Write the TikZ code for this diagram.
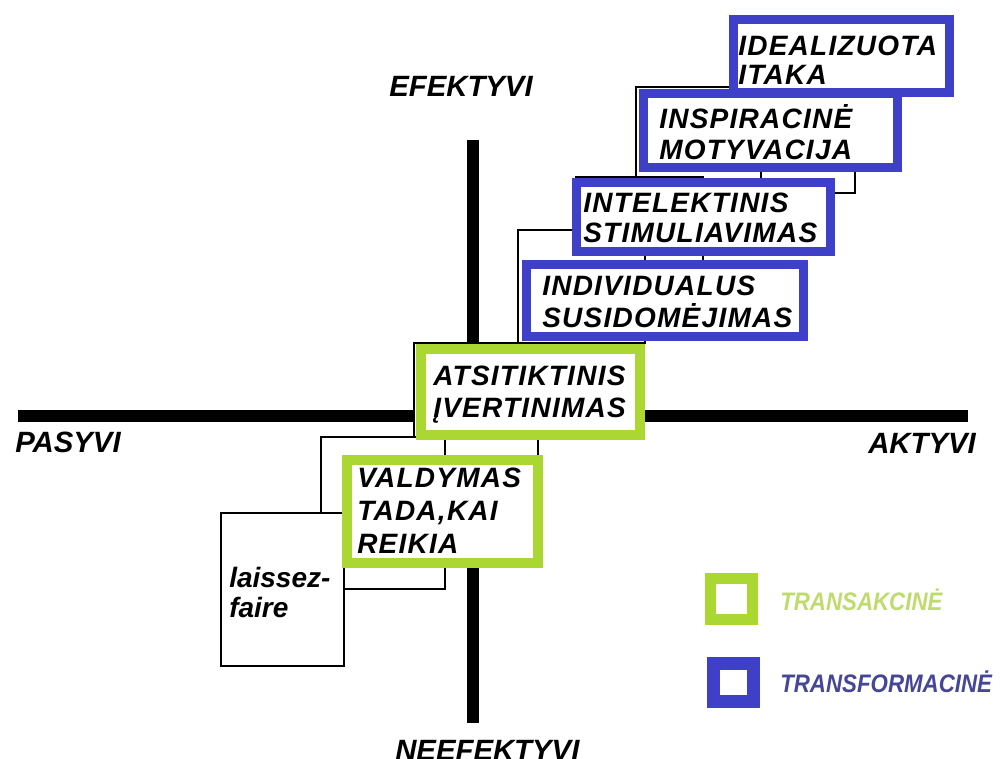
\documentclass[tikz,border=0pt]{standalone}
\usepackage{fontspec}
\usetikzlibrary{fit}
\newfontfamily\axisfont{Liberation Sans}
\newfontfamily\boxfont[LetterSpace=4.5]{Liberation Sans}
\newfontfamily\legendfont[FakeStretch=0.88]{Liberation Sans}
\definecolor{transgreen}{RGB}{170,215,50}
\definecolor{transblue}{RGB}{62,64,200}
\definecolor{legendgreen}{RGB}{190,220,110}
\definecolor{legendblue}{RGB}{70,70,150}

\begin{document}
\begin{tikzpicture}[x=0.75pt,y=-0.75pt,
  axisline/.style={line width=8.4pt},
  underframe/.style={draw=black, line width=1.5pt, fill=white, inner sep=0pt},
  bluebox/.style={draw=transblue, line width=6.75pt, fill=white, inner sep=0pt},
  greenbox/.style={draw=transgreen, line width=7.5pt, fill=white, inner sep=0pt},
  boxtext/.style={anchor=base west, inner sep=0pt, text width=300pt, align=left,
    font=\boxfont\bfseries\itshape\fontsize{21pt}{#1}\selectfont},
  plaintext/.style={anchor=base west, inner sep=0pt, text width=200pt, align=left,
    font=\axisfont\bfseries\itshape\fontsize{21pt}{#1}\selectfont},
  axislabel/.style={anchor=base west, inner sep=0pt,
    font=\axisfont\bfseries\itshape\fontsize{22pt}{26pt}\selectfont},
  legendlabel/.style={anchor=base west, inner sep=0pt,
    font=\legendfont\bfseries\itshape\fontsize{19pt}{22pt}\selectfont},
]
\useasboundingbox (0,0) rectangle (1001,758);

% axes
\coordinate (west) at (18,416);
\coordinate (east) at (968,416);
\coordinate (north) at (473,140);
\coordinate (south) at (473,723);
\draw[axisline] (west) -- (east);
\draw[axisline] (north) -- (south);

% thin frames lying underneath the coloured boxes
\node[underframe, fit={(636,87) (855,193)}] (back1) {};
\node[underframe, fit={(636,87) (761,205)}] (back2) {};
\node[underframe, fit={(576,176.5) (703,290)}] (back3) {};
\node[underframe, fit={(518,230) (645,342.5)}] (back4) {};
\node[underframe, fit={(414,342.5) (538,490)}] (back5) {};
\node[underframe, fit={(321,437) (445,589)}] (back6) {};

% laissez-faire
\node[underframe, fit={(221,513) (344,666)}] (laissezbox) {};
\node[plaintext=22.5pt] (laisseztext) at (229,587) {laissez-\\faire};

% transformational styles
\node[bluebox, fit={(733.5,19.5) (949.5,92.5)}] (idealbox) {};
\node[bluebox, fit={(643.5,93.5) (897.5,167.5)}] (inspbox) {};
\node[bluebox, fit={(576.5,182.5) (830.5,251.5)}] (intelbox) {};
\node[bluebox, fit={(526.5,264.5) (803.5,336.5)}] (indivbox) {};

% transactional styles
\node[greenbox, fit={(421,349) (640,435)}] (contbox) {};
\node[greenbox, fit={(347,460) (538,563)}] (mgmtbox) {};

% box texts
\node[boxtext=21.75pt] (idealtext) at (738,55) {IDEALIZUOTA\\ITAKA};
\node[boxtext=23.25pt] (insptext) at (659,128) {INSPIRACINĖ\\MOTYVACIJA};
\node[boxtext=22.5pt] (inteltext) at (583,212) {INTELEKTINIS\\STIMULIAVIMAS};
\node[boxtext=24pt] (indivtext) at (542,295) {INDIVIDUALUS\\SUSIDOMĖJIMAS};
\node[boxtext=24pt] (conttext) at (433,385) {ATSITIKTINIS\\ĮVERTINIMAS};
\node[boxtext=24.75pt] (mgmttext) at (357,487) {VALDYMAS\\TADA,KAI\\REIKIA};

% axis labels
\node[axislabel] (effective) at (389,96) {EFEKTYVI};
\node[axislabel] (passive) at (15,452) {PASYVI};
\node[axislabel] (active) at (868,453) {AKTYVI};
\node[axislabel] (ineffective) at (395,760) {NEEFEKTYVI};

% legend
\node[greenbox, line width=8.25pt, fit={(710.5,578.5) (752.5,619.5)}] (keygreen) {};
\node[bluebox, line width=9.75pt, fit={(713.5,663.5) (753.5,701.5)}] (keyblue) {};
\node[legendlabel, text=legendgreen] (keygreentext) at (780,610) {TRANSAKCINĖ};
\node[legendlabel, text=legendblue] (keybluetext) at (780,692) {TRANSFORMACINĖ};
\end{tikzpicture}
\end{document}
